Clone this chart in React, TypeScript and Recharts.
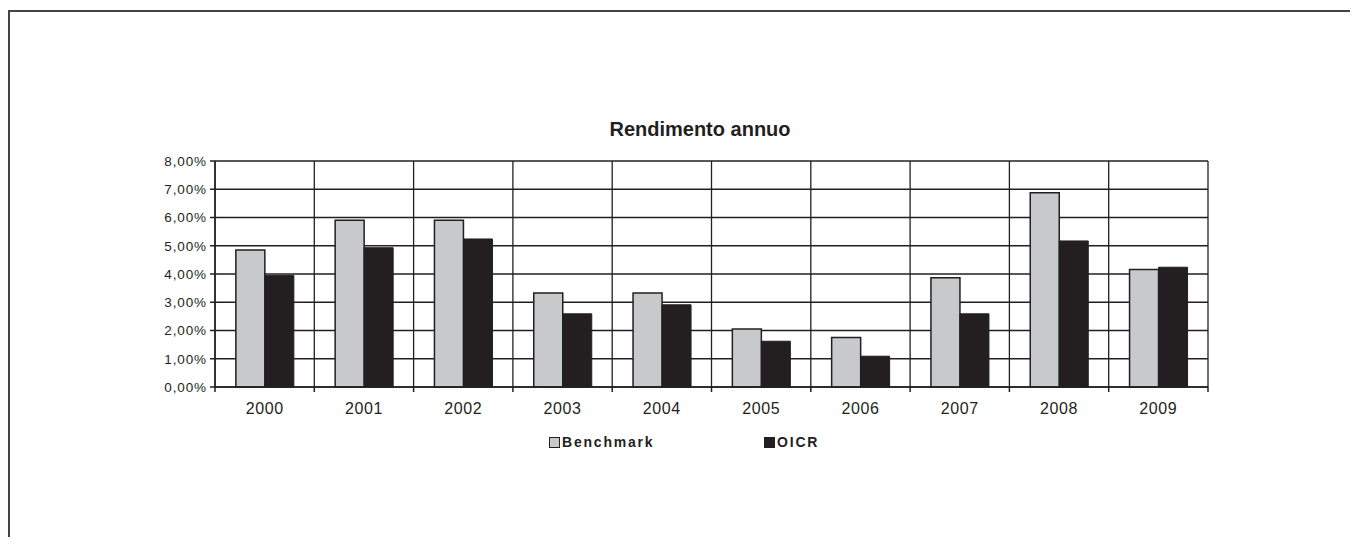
import React from 'react';
import { BarChart, Bar, XAxis, YAxis, CartesianGrid } from 'recharts';

const YEARS = ['2000', '2001', '2002', '2003', '2004', '2005', '2006', '2007', '2008', '2009'];
const BENCHMARK = [4.85, 5.9, 5.9, 3.33, 3.33, 2.05, 1.75, 3.87, 6.88, 4.16];
const OICR = [3.95, 4.93, 5.24, 2.59, 2.91, 1.62, 1.09, 2.59, 5.17, 4.24];
const Y_TICKS = [0, 1, 2, 3, 4, 5, 6, 7, 8];

const INK = '#231f20';
const GREY = '#c8c9cb';
const FONT = "Arial, 'Liberation Sans', sans-serif";

const CHART_W = 1340;
const CHART_H = 520;
const MARGIN = { top: 161, right: 132, left: 155, bottom: 103 };
const Y_AXIS_W = 60;
const PLOT_W = CHART_W - MARGIN.left - MARGIN.right - Y_AXIS_W;
const BAND = PLOT_W / YEARS.length;

const data = YEARS.map((year, i) => ({ year, benchmark: BENCHMARK[i], oicr: OICR[i] }));

const pct = (v: number) => v.toFixed(2).replace('.', ',') + '%';

// year label in the middle of the band, tick marks on the band edges
const YearTick = (props: any) => {
  const { x, y, payload, index } = props;
  const last = index === YEARS.length - 1;
  return (
    <g>
      <line x1={x - BAND / 2} x2={x - BAND / 2} y1={y} y2={y + 5} stroke={INK} strokeWidth={1.5} />
      {last && <line x1={x + BAND / 2} x2={x + BAND / 2} y1={y} y2={y + 5} stroke={INK} strokeWidth={1.5} />}
      <text
        x={x}
        y={y + 16}
        dy="0.71em"
        textAnchor="middle"
        fill={INK}
        fontSize={16}
        fontFamily={FONT}
        letterSpacing={0.6}
      >
        {payload.value}
      </text>
    </g>
  );
};

const LegendItem: React.FC<{ left: number; fill: string; label: string }> = ({ left, fill, label }) => (
  <div style={{ position: 'absolute', left, top: 434, display: 'flex', alignItems: 'center' }}>
    <span style={{ width: 9, height: 9, background: fill, border: `1.5px solid ${INK}`, marginRight: 2 }} />
    <span style={{ fontFamily: FONT, fontWeight: 'bold', fontSize: 14, letterSpacing: 1.8, color: INK }}>{label}</span>
  </div>
);

const App: React.FC = () => {
  return (
    <div
      style={{
        position: 'relative',
        marginTop: 2,
        width: 1350,
        height: 527,
        borderTop: '2px solid #444',
        borderLeft: '2px solid #444',
        boxSizing: 'border-box',
      }}
    >
      <div style={{ position: 'absolute', left: -10, top: -12, width: CHART_W, height: CHART_H }}>
        <div
          style={{
            position: 'absolute',
            left: 600,
            width: 200,
            top: 118,
            textAlign: 'center',
            fontFamily: FONT,
            fontWeight: 'bold',
            fontSize: 20,
            color: INK,
          }}
        >
          Rendimento annuo
        </div>
        <BarChart
          width={CHART_W}
          height={CHART_H}
          data={data}
          margin={MARGIN}
          barCategoryGap="21%"
          barGap={0}
        >
          <CartesianGrid
            stroke={INK}
            strokeWidth={1.3}
            verticalCoordinatesGenerator={({ offset }: any) =>
              YEARS.map((_, i) => offset.left + i * BAND).concat(offset.left + offset.width)
            }
          />
          <XAxis
            dataKey="year"
            height={30}
            axisLine={{ stroke: INK, strokeWidth: 1.5 }}
            tickLine={false}
            tickSize={0}
            tickMargin={0}
            interval={0}
            tick={<YearTick />}
          />
          <YAxis
            width={Y_AXIS_W}
            domain={[0, 8]}
            ticks={Y_TICKS}
            interval={0}
            tickFormatter={pct}
            tickSize={5}
            tickMargin={3}
            axisLine={{ stroke: INK, strokeWidth: 1.5 }}
            tickLine={{ stroke: INK, strokeWidth: 1.5 }}
            tick={{ fill: INK, fontSize: 13.5, fontFamily: FONT, letterSpacing: 0.9 }}
          />
          <Bar
            dataKey="benchmark"
            name="Benchmark"
            fill={GREY}
            stroke={INK}
            strokeWidth={1.5}
            isAnimationActive={false}
          />
          <Bar
            dataKey="oicr"
            name="OICR"
            fill={INK}
            stroke={INK}
            strokeWidth={1}
            isAnimationActive={false}
          />
        </BarChart>
        <LegendItem left={549} fill={GREY} label="Benchmark" />
        <LegendItem left={764} fill={INK} label="OICR" />
      </div>
    </div>
  );
};

export default App;
